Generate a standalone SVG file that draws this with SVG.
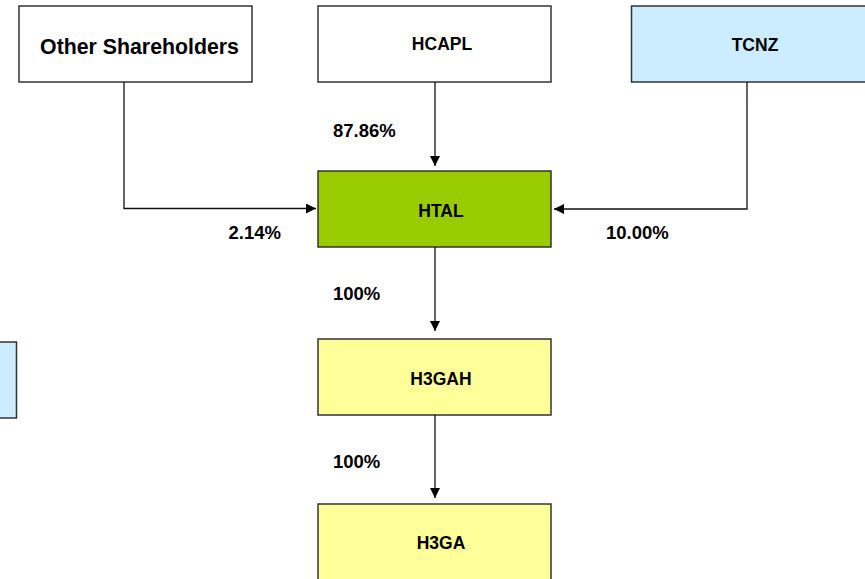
<svg xmlns="http://www.w3.org/2000/svg" width="865" height="579" viewBox="0 0 865 579">
<style>
.box{stroke:#333;stroke-width:1.5}
.lbl{font-family:"Liberation Sans",Arial,sans-serif;font-weight:bold;font-size:17.5px;fill:#000;text-anchor:middle}
.pct{font-family:"Liberation Sans",Arial,sans-serif;font-weight:bold;font-size:18.5px;fill:#000}
.con{fill:none;stroke:#111;stroke-width:1.3}
</style>
<defs>
<marker id="ah" viewBox="0 0 10 10" refX="10" refY="5" markerWidth="10" markerHeight="10" markerUnits="userSpaceOnUse" orient="auto">
<path d="M0,0 L10,5 L0,10 Z" fill="#000"/>
</marker>
</defs>
<rect width="865" height="579" fill="#fff"/>
<g id="other-shareholders">
<rect class="box" x="19" y="6" width="233" height="76" fill="#fff"/>
<text class="lbl" x="139.5" y="54" style="font-size:21.3px">Other Shareholders</text>
</g>
<g id="hcapl">
<rect class="box" x="318" y="6" width="233" height="76" fill="#fff"/>
<text class="lbl" x="442" y="49.5">HCAPL</text>
</g>
<g id="tcnz">
<rect class="box" x="631.5" y="6" width="250" height="76" fill="#CCECFF"/>
<text class="lbl" x="755" y="51">TCNZ</text>
</g>
<g id="htal">
<rect class="box" x="318" y="171" width="233" height="76" fill="#99CC00"/>
<text class="lbl" x="441" y="216.5">HTAL</text>
</g>
<g id="h3gah">
<rect class="box" x="318" y="339" width="233" height="76" fill="#FFFF99"/>
<text class="lbl" x="441" y="385">H3GAH</text>
</g>
<g id="h3ga">
<rect class="box" x="318" y="504" width="233" height="90" fill="#FFFF99"/>
<text class="lbl" x="441" y="549">H3GA</text>
</g>
<g id="left-box">
<rect class="box" x="-20" y="342" width="36.5" height="76" fill="#CCECFF"/>
</g>
<g id="connectors">
<path class="con" d="M124,82 V208.5 H316" marker-end="url(#ah)"/>
<path class="con" d="M435,82 V166" marker-end="url(#ah)"/>
<path class="con" d="M747,82 V209 H554" marker-end="url(#ah)"/>
<path class="con" d="M435,247 V331" marker-end="url(#ah)"/>
<path class="con" d="M435,415 V498" marker-end="url(#ah)"/>
</g>
<g id="labels">
<text class="pct" x="333" y="137">87.86%</text>
<text class="pct" x="228.5" y="238.5">2.14%</text>
<text class="pct" x="606" y="238.5">10.00%</text>
<text class="pct" x="333" y="300">100%</text>
<text class="pct" x="333" y="468">100%</text>
</g>
</svg>
